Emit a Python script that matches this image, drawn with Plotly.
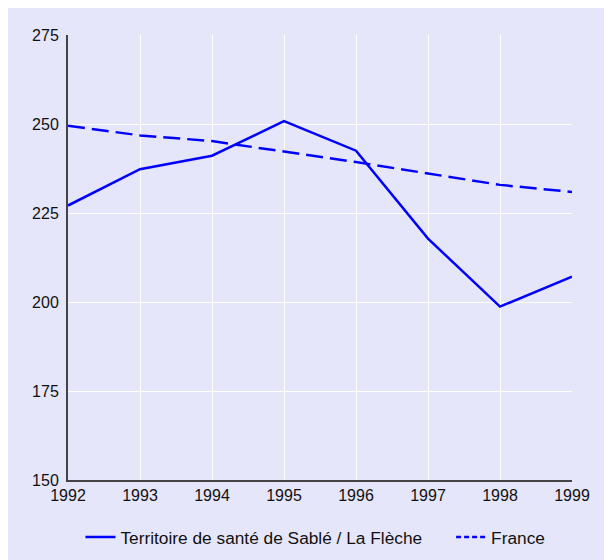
import plotly.graph_objects as go

# Données
annees = [1992, 1993, 1994, 1995, 1996, 1997, 1998, 1999]
sable_la_fleche = [227.1, 237.3, 241.1, 250.8, 242.5, 217.8, 198.7, 207.1]
france = [249.5, 246.8, 245.2, 242.3, 239.3, 236.1, 232.9, 230.9]

fond = '#e6e6fa'
bleu = '#0000ff'

fig = go.Figure()

fig.add_trace(go.Scatter(x=annees, y=sable_la_fleche, mode='lines',
                         name='Territoire de santé de Sablé / La Flèche' + '\u00a0' * 5,
                         line=dict(color=bleu, width=2.5)))
fig.add_trace(go.Scatter(x=annees, y=france, mode='lines', name='France',
                         legendgroup='fr', showlegend=False,
                         line=dict(color=bleu, width=2.5, dash='17px,7px')))
# entrée de légende seule (tirets plus courts comme dans l'original)
fig.add_trace(go.Scatter(x=[None], y=[None], mode='lines', name='France',
                         legendgroup='fr',
                         line=dict(color=bleu, width=2.5, dash='5px,3px')))

# la page html ajoute une marge de 8px autour de la figure
fig.update_layout(
    width=604, height=552,
    paper_bgcolor=fond, plot_bgcolor=fond,
    margin=dict(l=60, r=40, t=27, b=80, autoexpand=False),
    font=dict(family='Liberation Sans, Arial, sans-serif', size=16, color='#111111'),
    showlegend=True,
    legend=dict(orientation='h', x=0.491, xanchor='center', y=-0.088, yanchor='top',
                bgcolor='rgba(0,0,0,0)', font=dict(size=17.3)),
)

fig.update_xaxes(range=[1992, 1999], tickvals=annees, showgrid=True, gridcolor='white',
                 gridwidth=1, showline=True, linecolor='#444444', linewidth=2,
                 zeroline=False, ticks='', ticklabelstandoff=0)
fig.update_yaxes(range=[150, 275], tickvals=[150, 175, 200, 225, 250, 275], showgrid=True,
                 gridcolor='white', gridwidth=1, showline=True, linecolor='#444444',
                 linewidth=2, zeroline=False, ticks='', ticklabelstandoff=4)

fig.write_html("out.html")
